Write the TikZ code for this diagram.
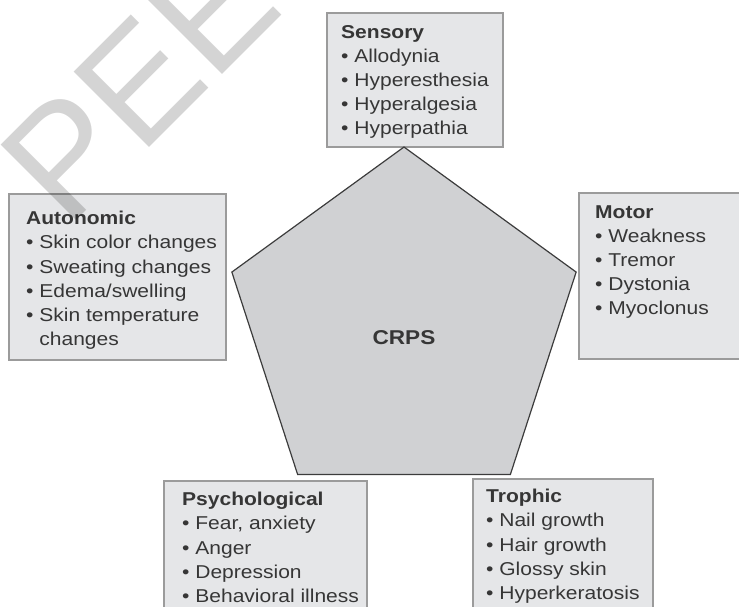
\documentclass[tikz,border=0pt]{standalone}
\usepackage{fontspec}
\setmainfont{Liberation Sans}[FakeStretch=1.13]
\newfontfamily\markfont{Liberation Sans}
\usetikzlibrary{shapes.geometric}
\definecolor{boxfill}{HTML}{E5E6E8}
\definecolor{boxline}{HTML}{9B9B9B}
\definecolor{corefill}{HTML}{D0D1D3}
\definecolor{coreline}{HTML}{3C3C3C}
\definecolor{ink}{HTML}{363636}
\tikzstyle{sign box}=[draw=boxline,fill=boxfill,line width=1.2]
\tikzstyle{sign list}=[anchor=north west,inner sep=0,align=left,text=ink,
                       font=\fontsize{18.6}{24.2}\selectfont]
\tikzstyle{core}=[regular polygon,regular polygon sides=5,draw=coreline,
                  fill=corefill,line width=1.2,minimum size=362,inner sep=0]
\newcommand\hd[1]{\textbf{#1}}
\newcommand\itm{\textbullet\ }

\begin{document}
\begin{tikzpicture}[x=1pt,y=-1pt]

        \useasboundingbox (0,0) rectangle (739,606);
        \coordinate (C) at (404,328); % centre of the pentagon

        % SIGN BOXES
        \draw[sign box] (327,13) rectangle (503,147);  % sensory
        \draw[sign box] (9,194) rectangle (226,360);   % autonomic
        \draw[sign box] (579,193) rectangle (750,359); % motor
        \draw[sign box] (164,481) rectangle (367,620); % psychological
        \draw[sign box] (473,479) rectangle (653,620); % trophic

        % CRPS PENTAGON
        \node[core] (crps) at (C) {};
        \node[text=ink,font=\bfseries\fontsize{20}{20}\selectfont] (crps label)
             at ([yshift=-10]crps.center) {CRPS};

        % SIGN LISTS
        \node[sign list] (sensory) at (341,25)
             {\hd{Sensory}\\ \itm Allodynia\\ \itm Hyperesthesia\\
              \itm Hyperalgesia\\ \itm Hyperpathia};
        \node[sign list] (autonomic) at (26,211)
             {\hd{Autonomic}\\ \itm Skin color changes\\ \itm Sweating changes\\
              \itm Edema/swelling\\ \itm Skin temperature\\
              \phantom{\itm}changes};
        \node[sign list] (motor) at (595,205)
             {\hd{Motor}\\ \itm Weakness\\ \itm Tremor\\ \itm Dystonia\\
              \itm Myoclonus};
        \node[sign list] (psychological) at (182,492)
             {\hd{Psychological}\\ \itm Fear, anxiety\\ \itm Anger\\
              \itm Depression\\ \itm Behavioral illness};
        \node[sign list] (trophic) at (486,489)
             {\hd{Trophic}\\ \itm Nail growth\\ \itm Hair growth\\
              \itm Glossy skin\\ \itm Hyperkeratosis};

        % WATERMARK
        \begin{scope}
          \clip (0,0) rectangle (739,606);
          \node[anchor=base west,rotate=45,inner sep=0,text=black,opacity=0.17,
                font=\markfont\fontsize{155}{155}\selectfont] (mark) at (67,230) {PEE};
        \end{scope}

\end{tikzpicture}
\end{document}
